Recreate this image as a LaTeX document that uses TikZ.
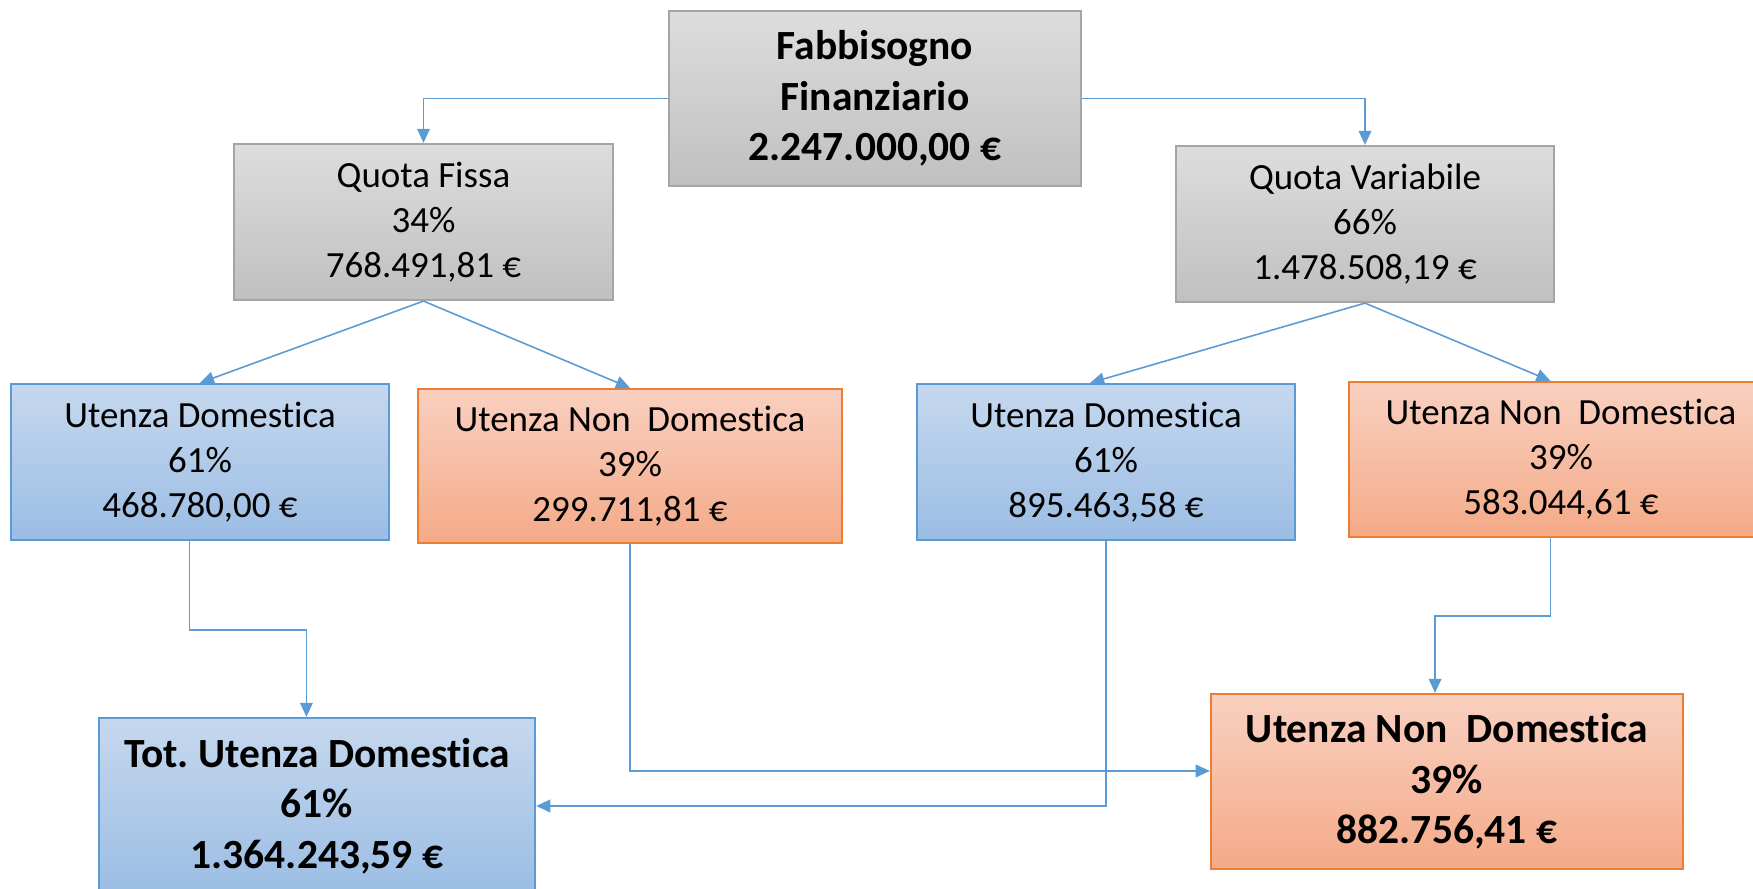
\documentclass[tikz,border=0pt]{standalone}
\usepackage{fontspec}
\setmainfont{Carlito}[Ligatures=NoCommon]
\usetikzlibrary{arrows.meta}
\definecolor{lnk}{HTML}{5B9BD5}
\definecolor{grayT}{HTML}{DDDDDD}
\definecolor{grayB}{HTML}{C0C0C0}
\definecolor{grayL}{HTML}{A5A5A5}
\definecolor{blueT}{HTML}{C6D8EE}
\definecolor{blueB}{HTML}{9BBDE4}
\definecolor{oraT}{HTML}{F9D0C0}
\definecolor{oraB}{HTML}{F4AA88}
\definecolor{oraL}{HTML}{ED7D31}
\frenchspacing
\begin{document}
\begin{tikzpicture}[x=0.01cm, y=-0.01cm,
	box/.style ={rectangle, inner sep=0pt, line width=0.6pt, align=center, font=\fontsize{10.5}{12.8}\selectfont},
	big/.style ={font=\fontsize{11.8}{14.3}\selectfont\bfseries},
	grigio/.style ={box, draw=grayL, top color=grayT, bottom color=grayB},
	blu/.style ={box, draw=lnk, top color=blueT, bottom color=blueB},
	arancio/.style ={box, draw=oraL, top color=oraT, bottom color=oraB},
	link/.style ={draw=lnk, line width=0.45pt, -{Triangle[length=4pt, width=3.6pt]}}]
		\useasboundingbox (0,0) rectangle (1753,889);
		\def\bw{3.78cm};
		\def\bh{1.56cm};
		\node[grigio, big, minimum width=4.12cm, minimum height=1.75cm] (fab) at (875,98.5) {Fabbisogno\\Finanziario\\2.247.000,00 €};
		\node[grigio, minimum width=\bw, minimum height=\bh] (qf) at (423.5,222) {Quota Fissa\\34\%\\768.491,81 €};
		\node[grigio, minimum width=\bw, minimum height=\bh] (qv) at (1365,224) {Quota Variabile\\66\%\\1.478.508,19 €};
		\node[blu, minimum width=\bw, minimum height=\bh] (ud1) at (200,462) {Utenza Domestica\\61\%\\468.780,00 €};
		\node[arancio, minimum width=4.24cm, minimum height=1.54cm] (und1) at (630,466) {Utenza Non\ \ Domestica\\39\%\\299.711,81 €};
		\node[blu, minimum width=\bw, minimum height=\bh] (ud2) at (1106,462) {Utenza Domestica\\61\%\\895.463,58 €};
		\node[arancio, minimum width=4.24cm, minimum height=1.55cm] (und2) at (1561,459.5) {Utenza Non\ \ Domestica\\39\%\\583.044,61 €};
		\node[blu, big, minimum width=4.36cm, minimum height=1.76cm] (totd) at (317,806) {Tot. Utenza Domestica\\61\%\\1.364.243,59 €};
		\node[arancio, big, minimum width=4.72cm, minimum height=1.75cm] (totn) at (1447,781.5) {Utenza Non\ \ Domestica\\39\%\\882.756,41 €};
		\draw[link] (fab.west) -| (qf.north);
		\draw[link] (fab.east) -| (qv.north);
		\draw[link] (qf.south) -- (ud1.north);
		\draw[link] (qf.south) -- (und1.north);
		\draw[link] (qv.south) -- ([xshift=-4.5pt]ud2.north);
		\draw[link] (qv.south) -- ([xshift=-3pt]und2.north);
		\draw[link] ([xshift=-3pt]ud1.south) -- ++(0,89) -| ([xshift=-3pt]totd.north);
		\draw[link] (und1.south) |- ([yshift=3pt]totn.west);
		\draw[link] (ud2.south) |- (totd.east);
		\draw[link] ([xshift=-3pt]und2.south) -- ++(0,78) -| ([xshift=-3.4pt]totn.north);
	\end{tikzpicture}
\end{document}
